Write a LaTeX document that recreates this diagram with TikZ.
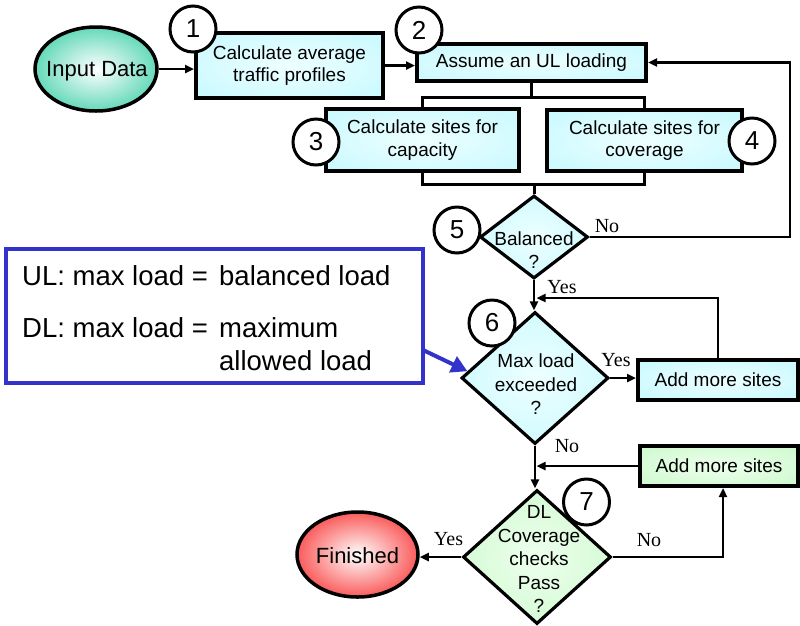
\documentclass[tikz,border=0pt]{standalone}
\usepackage{fontspec}
\setmainfont{Liberation Sans}
\newfontfamily\ynserif{Liberation Serif}
\usetikzlibrary{shapes.geometric,arrows.meta,calc}
\pgfdeclareradialshading{shcyan}{\pgfpoint{0bp}{0bp}}{rgb(0bp)=(0.93,1,1); rgb(45bp)=(0.74,0.97,1); rgb(50bp)=(0.74,0.97,1)}
\pgfdeclareradialshading{shgreen}{\pgfpoint{0bp}{0bp}}{rgb(0bp)=(0.93,1,0.93); rgb(45bp)=(0.77,0.97,0.77); rgb(50bp)=(0.77,0.97,0.77)}
\pgfdeclareradialshading{shteal}{\pgfpoint{0bp}{0bp}}{rgb(0bp)=(1,1,1); rgb(40bp)=(0.03,0.76,0.56); rgb(50bp)=(0.03,0.76,0.56)}
\pgfdeclareradialshading{shred}{\pgfpoint{0bp}{0bp}}{rgb(0bp)=(1,1,1); rgb(38bp)=(0.97,0.02,0.02); rgb(50bp)=(0.97,0.02,0.02)}
\definecolor{noteblue}{RGB}{51,51,204}
\tikzset{
 boxc/.style={rectangle, draw, line width=4pt, shade, shading=shcyan, align=center, inner sep=0pt, font=\fontsize{19pt}{22.5pt}\selectfont},
 boxg/.style={boxc, shading=shgreen},
 diac/.style={diamond, draw, line width=3.2pt, shade, shading=shcyan, inner sep=0pt},
 diag/.style={diac, shading=shgreen},
 oval/.style={ellipse, draw, line width=3.5pt, shade, inner sep=0pt},
 ovaltext/.style={font=\fontsize{22pt}{26pt}\selectfont, inner sep=0pt},
 diatext/.style={align=center, inner sep=0pt, font=\fontsize{19pt}{23.5pt}\selectfont},
 numc/.style={circle, draw, line width=3pt, fill=white, minimum size=46pt, inner sep=0pt, font=\fontsize{26pt}{30pt}\selectfont},
 conn/.style={line width=3pt},
 arr/.style={line width=2.5pt, -{Triangle[length=9pt,width=8pt]}},
 yn/.style={font=\ynserif\fontsize{20pt}{24pt}\selectfont, inner sep=0pt},
 notetext/.style={font=\fontsize{27.5pt}{32pt}\selectfont, inner sep=0pt, anchor=base west},
 bluearr/.style={noteblue, line width=4pt, -{Triangle[length=16pt,width=17pt]}}
}
\begin{document}
\begin{tikzpicture}[x=1pt,y=-1pt]
\useasboundingbox (0,0) rectangle (800,625);
\clip (0,0) rectangle (800,625);

% shapes
\node[oval, shading=shteal, minimum width=122pt, minimum height=84pt] (input) at (96,69) {};
\node[ovaltext] (inputt) at (97,71) {Input Data};
\node[boxc, minimum width=187pt, minimum height=65pt] (b1) at (289.5,65.5) {Calculate average\\traffic profiles};
\node[boxc, minimum width=229pt, minimum height=37pt] (b2) at (531.5,62.5) {Assume an UL loading};
\node[boxc, minimum width=193pt, minimum height=62pt] (b3) at (422.5,140) {Calculate sites for\\capacity};
\node[boxc, minimum width=195pt, minimum height=61pt] (b4) at (644.5,140.5) {Calculate sites for\\coverage};
\node[diac, minimum width=108pt, minimum height=83pt] (d5) at (534,237) {};
\node[diatext] (d5t) at (534,250) {Balanced\\?};
\node[diac, minimum width=147pt, minimum height=132pt] (d6) at (535,378) {};
\node[diatext] (d6t) at (536,384.5) {Max load\\exceeded\\?};
\node[boxc, minimum width=160pt, minimum height=40pt] (add1) at (718,380) {Add more sites};
\node[boxg, minimum width=158pt, minimum height=40pt] (add2) at (719,466) {Add more sites};
\node[diag, minimum width=148pt, minimum height=134pt] (d7) at (537,557) {};
\node[diatext] (d7t) at (539,559) {DL\\Coverage\\checks\\Pass\\?};
\node[oval, shading=shred, minimum width=121pt, minimum height=85pt] (fin) at (357.5,554.5) {};
\node[ovaltext] (fint) at (357.5,555.5) {Finished};

% note box
\node[draw=noteblue, line width=4pt, minimum width=417pt, minimum height=134pt, inner sep=0pt] (note) at (214.5,316) {};
\node[notetext] (n1) at (22,285) {UL: max load =};
\node[notetext] (n2) at (219,285) {balanced load};
\node[notetext] (n3) at (22,337) {DL: max load =};
\node[notetext] (n4) at (219,337) {maximum};
\node[notetext] (n5) at (219,370) {allowed load};

% helper coordinates
\coordinate (fk) at (532,97);
\coordinate (jn) at (534,184);
\coordinate (fb) at (790,237);
\coordinate (lp) at (718,298);
\coordinate (nc) at (723,557);
\coordinate (bs) at (423,350);
\coordinate (bt) at ($(d6.west)!0.1!(d6.north)$);

% connectors
\draw[arr] (input.east) -- (input.east -| b1.west);
\draw[arr] (b1.east) -- (b1.east -| b2.west);
\draw[conn] (b2.south) -- (b2.south |- fk);
\draw[conn] (b3.north) |- (fk) -| (b4.north);
\draw[conn] (b3.south) |- (jn) -| (b4.south);
\draw[conn] (jn) -- (d5.north);
\draw[arr] (d5.east) -- (fb) |- (b2.east);
\draw[arr] (d5.south) -- (d5.south |- d6.north);
\draw[arr] (d6.east) -- (d6.east -| add1.west);
\draw[arr, shorten >=1.5pt] (add1.north -| lp) -- (lp) -- (lp -| d6.north);
\draw[arr] (d6.south) -- (d6.south |- d7.north);
\draw[arr, shorten >=1.5pt] (add2.west) -- (add2.west -| d6.south);
\draw[arr] (d7.west) -- (d7.west -| fin.east);
\draw[arr] (d7.east) -- (nc) -- (nc |- add2.south);
\draw[bluearr] (bs) -- (bt);

% labels
\node[yn] (l5no) at (607,226) {No};
\node[yn] (l5yes) at (562,287) {Yes};
\node[yn] (l6yes) at (616,360) {Yes};
\node[yn] (l6no) at (567,446) {No};
\node[yn] (l7yes) at (448.5,539) {Yes};
\node[yn] (l7no) at (649,540) {No};

% numbered circles
\node[numc] (c1) at (193,29) {1};
\node[numc] (c2) at (419,30) {2};
\node[numc] (c3) at (316,142) {3};
\node[numc] (c4) at (752,141) {4};
\node[numc] (c5) at (457,230) {5};
\node[numc] (c6) at (492,323) {6};
\node[numc] (c7) at (586.5,502) {7};
\end{tikzpicture}
\end{document}
